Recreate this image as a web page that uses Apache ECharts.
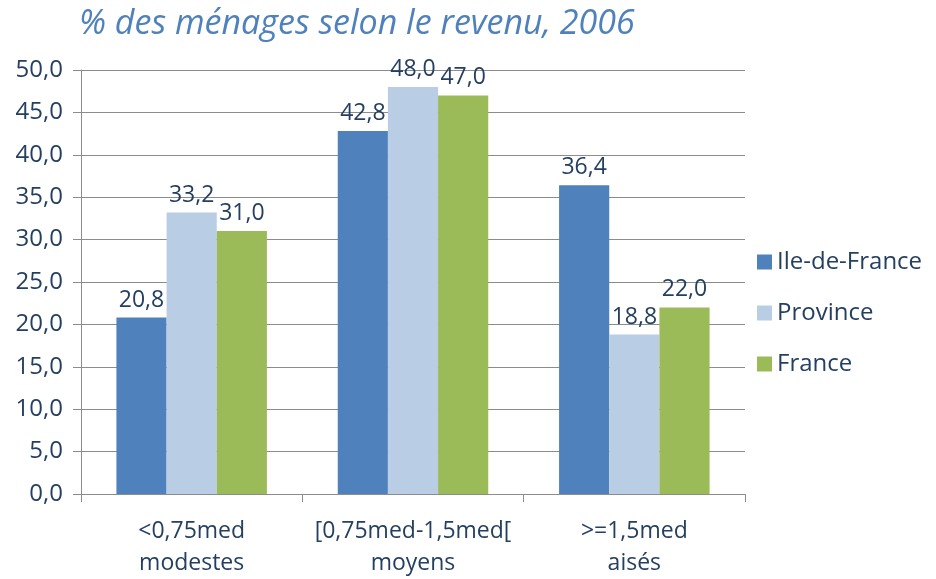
<!DOCTYPE html>
<html>
<head>
<meta charset="utf-8">
<script src="https://cdn.jsdelivr.net/npm/echarts@6/dist/echarts.min.js"></script>
<style>
  html, body { margin: 0; padding: 0; background: #fff; }
  #chart { width: 936px; height: 579px; }
</style>
</head>
<body>
<div id="chart"></div>
<script>
// données
const categories = ['<0,75med\nmodestes', '[0,75med-1,5med[\nmoyens', '>=1,5med\naisés']
const seriesNames = ['Ile-de-France', 'Province', 'France']
const ileDeFrance = [20.8, 42.8, 36.4]
const province = [33.2, 48.0, 18.8]
const france = [31.0, 47.0, 22.0]
const colors = ['#4f81bd', '#b9cde5', '#9bbb59']

const textColor = '#243f60'
const gridColor = '#8c8c8c'
const font = 'Open Sans'

const fmt = v => v.toFixed(1).replace('.', ',')

const chart = echarts.init(document.getElementById('chart'))

const seriesList = [ileDeFrance, province, france].map(function(values, i) {
  return {
    name: seriesNames[i],
    type: 'bar',
    data: values,
    barGap: '0%',
    barCategoryGap: '32%',
    itemStyle: { color: colors[i] },
    label: {
      show: true,
      position: 'top',
      distance: 6,
      color: textColor,
      fontFamily: font,
      fontSize: 23,
      formatter: p => fmt(p.value)
    }
  }
})

chart.setOption({
  animation: false,
  color: colors,
  title: {
    text: '% des ménages selon le revenu, 2006',
    left: 74,
    top: 2,
    textStyle: {
      color: '#4f81bd',
      fontFamily: font,
      fontStyle: 'italic',
      fontWeight: 'normal',
      fontSize: 34
    }
  },
  legend: {
    orient: 'vertical',
    left: 752,
    top: 245,
    itemWidth: 15,
    itemHeight: 15,
    itemGap: 27,
    icon: 'rect',
    textStyle: { color: textColor, fontFamily: font, fontSize: 24 },
    data: seriesNames
  },
  grid: {
    left: 81,
    right: 191,
    top: 70,
    bottom: 78,
    containLabel: false
  },
  xAxis: {
    type: 'category',
    data: categories,
    axisLine: { lineStyle: { color: gridColor } },
    axisTick: { show: true, length: 8, lineStyle: { color: gridColor } },
    axisLabel: {
      interval: 0,
      color: textColor,
      fontFamily: font,
      fontSize: 23,
      lineHeight: 32,
      margin: 21
    }
  },
  yAxis: {
    type: 'value',
    min: 0,
    max: 50,
    interval: 5,
    axisLine: { show: true, lineStyle: { color: gridColor } },
    axisTick: { show: true, length: 8, lineStyle: { color: gridColor } },
    splitLine: { lineStyle: { color: gridColor } },
    axisLabel: {
      color: textColor,
      fontFamily: font,
      fontSize: 24,
      margin: 18,
      formatter: v => fmt(v)
    }
  },
  series: seriesList
})
</script>
</body>
</html>
